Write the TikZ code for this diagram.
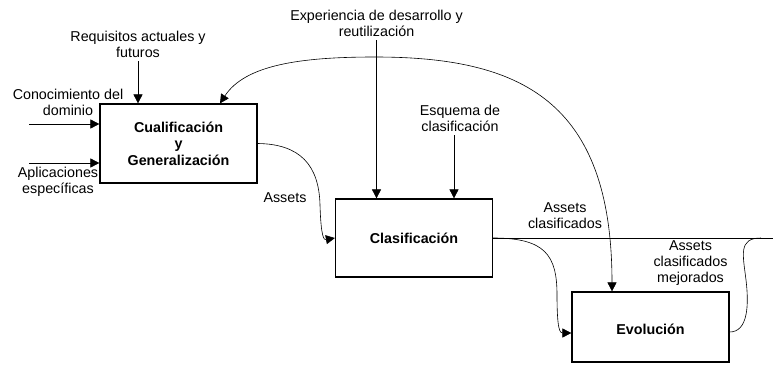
\documentclass[tikz,border=0pt]{standalone}
\usepackage{fontspec}
\setmainfont{Liberation Sans}
\usetikzlibrary{arrows.meta, calc, positioning}

\begin{document}
\begin{tikzpicture}[x=1pt,y=-1pt,
		bloque/.style={draw, line width=1.2pt, minimum width=157pt, align=center, font=\fontsize{14.3}{16.5}\selectfont\bfseries},
		etiqueta/.style={align=center, font=\fontsize{14.3}{16}\selectfont},
		flecha/.style={-{Triangle[length=9pt,width=9pt]}, line width=0.6pt},
		linea/.style={line width=0.6pt}]
		\useasboundingbox (0,0) rectangle (773,372);
		
		% cajas
		\node[bloque, minimum height=79pt] (cualif) at (178.5,143.5) {Cualificación\\y\\Generalización};
		\node[bloque, minimum height=78pt] (clasif) at (414,238) {Clasificación};
		\node[bloque, minimum height=70pt, text height=15pt, text depth=0pt] (evol) at (650.5,327) {Evolución};
		
		% etiquetas
		\node[etiqueta] (req) at (138,44.5) {Requisitos actuales y\\futuros};
		\node[etiqueta] (cono) at (68,102) {Conocimiento del\\dominio};
		\node[etiqueta] (apli) at (58,181.5) {Aplicaciones\\específicas};
		\node[etiqueta] (exper) at (376.5,23.5) {Experiencia de desarrollo y\\reutilización};
		\node[etiqueta] (esq) at (460,118.5) {Esquema de\\clasificación};
		\node[etiqueta] (assets) at (285,198) {Assets};
		\node[etiqueta] (aclas) at (565,215.5) {Assets\\clasificados};
		\node[etiqueta] (amej) at (690.5,263.5) {Assets\\clasificados\\mejorados};
		
		% entradas
		\coordinate (cono-in) at (29,124);
		\coordinate (apli-in) at (29,163);
		\coordinate (esq-in) at ([xshift=-6pt]esq.south);
		\coordinate (salida) at (773,238);
		\draw[flecha] (req.south) -- (req.south |- cualif.north);
		\draw[flecha] (cono-in) -- (cono-in -| cualif.west);
		\draw[flecha] (apli-in) -- (apli-in -| cualif.west);
		\draw[flecha] (exper.south) -- (exper.south |- clasif.north);
		\draw[flecha] (esq-in) -- (esq-in |- clasif.north);
		
		% flujo
		\draw[flecha] (cualif.east) .. controls (300,144) and (319,165) .. (320,205) .. controls (321,238) and (324,240) .. (clasif.west);
		\draw[linea, {Triangle[length=9pt,width=9pt]}-{Triangle[length=9pt,width=9pt]}] ([xshift=41.5pt]cualif.north) .. controls (245,65) and (300,57) .. (375,57) .. controls (520,57) and (612,100) .. ([xshift=-38.5pt]evol.north);
		\draw[linea] (clasif.east) -- (salida);
		\draw[flecha] (clasif.east) .. controls (545,238) and (557,255) .. (557,295) .. controls (557,330) and (560,333) .. ([yshift=-6pt]evol.west);
		\draw[linea] ([yshift=-5pt]evol.east) .. controls (748,332) and (749,305) .. (746,280) .. controls (743,255) and (738,238) .. ([xshift=-12pt]salida);
		
\end{tikzpicture}
\end{document}
